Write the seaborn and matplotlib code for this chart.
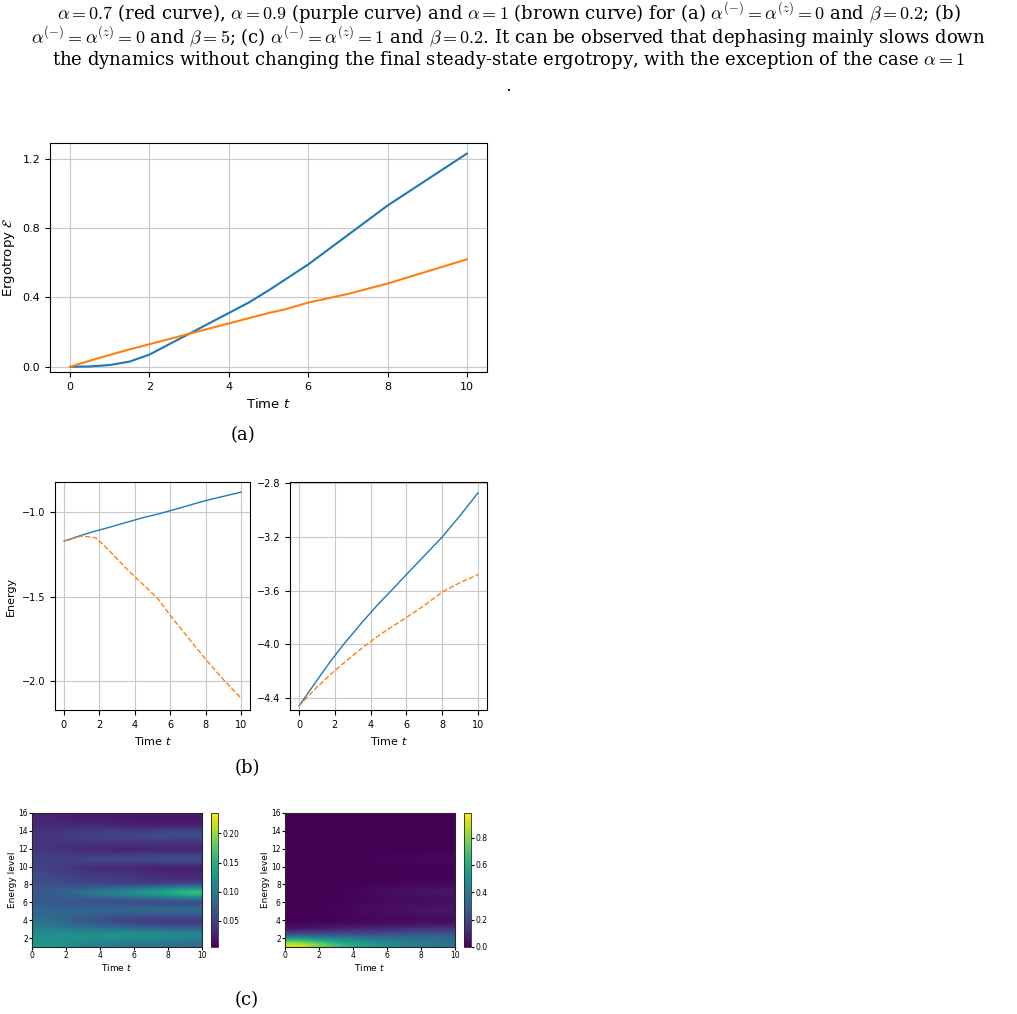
import matplotlib
matplotlib.use("Agg")
import matplotlib.pyplot as plt
import numpy as np
import pandas as pd
import seaborn as sns

sns.set_style("ticks")
plt.rcParams["font.family"] = ["DejaVu Sans"]
plt.rcParams["mathtext.fontset"] = "dejavusans"
plt.rcParams["xtick.color"] = "black"
plt.rcParams["ytick.color"] = "black"
plt.rcParams["text.color"] = "black"
plt.rcParams["axes.labelcolor"] = "black"

# ─── data ────────────────────────────────────────────────────────────────────
t_a = [0, 0.5, 1, 1.5, 2, 2.5, 3, 3.5, 4, 4.5, 5, 5.4, 6, 7, 8, 9, 10]
erg_blue = [0, 0.002, 0.01, 0.03, 0.07, 0.13, 0.19, 0.25, 0.31, 0.37, 0.44, 0.50, 0.59,
            0.76, 0.93, 1.08, 1.23]
erg_orange = [0, 0.035, 0.068, 0.10, 0.13, 0.16, 0.19, 0.22, 0.25, 0.28, 0.31, 0.33, 0.37,
              0.42, 0.48, 0.55, 0.62]

t_b = [0, 1, 1.8, 2.5, 3.5, 4.5, 5.3, 6, 7, 8, 9, 10]
en_left_blue = [-1.17, -1.135, -1.11, -1.09, -1.06, -1.03, -1.01, -0.99, -0.96, -0.93, -0.905, -0.88]
en_left_orange = [-1.17, -1.14, -1.15, -1.22, -1.33, -1.43, -1.51, -1.61, -1.74, -1.87, -1.99, -2.10]
en_right_blue = [-4.46, -4.27, -4.12, -4.0, -3.84, -3.69, -3.58, -3.48, -3.34, -3.2, -3.04, -2.87]
en_right_orange = [-4.46, -4.32, -4.22, -4.14, -4.03, -3.93, -3.86, -3.8, -3.71, -3.61, -3.54, -3.48]

levels = list(range(1, 17))
t_c = [0, 2, 4, 6, 8, 10]
pop_left = [
    [.13, .11, .10, .09, .09, .08],
    [.12, .13, .14, .14, .14, .13],
    [.10, .08, .07, .06, .05, .05],
    [.09, .07, .05, .04, .04, .04],
    [.08, .09, .10, .10, .11, .11],
    [.07, .05, .04, .03, .02, .02],
    [.07, .10, .13, .16, .19, .23],
    [.06, .05, .04, .03, .03, .03],
    [.06, .05, .05, .05, .04, .04],
    [.05, .03, .02, .02, .01, .01],
    [.05, .06, .07, .07, .08, .08],
    [.04, .03, .02, .02, .02, .02],
    [.04, .04, .04, .04, .04, .04],
    [.04, .05, .06, .06, .07, .07],
    [.03, .03, .03, .02, .02, .02],
    [.03, .02, .02, .02, .02, .02],
]
pop_right = [
    [.98, .75, .60, .50, .42, .38],
    [.15, .20, .22, .25, .28, .30],
    [.01, .02, .03, .04, .05, .06],
    [0, 0, .01, .01, .01, .01],
    [0, .01, .03, .05, .07, .08],
    [0, 0, .01, .01, .01, .01],
    [0, .01, .02, .04, .06, .08],
    [0, 0, 0, .01, .01, .01],
    [0, 0, 0, 0, .01, .01],
    [0, 0, 0, 0, 0, 0],
    [0, 0, .01, .02, .03, .03],
    [0, 0, 0, 0, 0, 0],
    [0, 0, 0, 0, .01, .01],
    [0, 0, 0, 0, 0, 0],
    [0, 0, 0, 0, 0, 0],
    [0, 0, 0, 0, 0, 0],
]

W, H = 1017, 1014
fig = plt.figure(figsize=(W / 100, H / 100), dpi=100)


def box(x0, y0, x1, y1):
    return [x0 / W, 1 - y1 / H, (x1 - x0) / W, (y1 - y0) / H]


def style(ax, fs):
    ax.grid(True, color="#c8c8c8", lw=0.8)
    ax.tick_params(labelsize=fs)
    for s in ax.spines.values():
        s.set_color("black")
        s.set_linewidth(0.8)


cap = dict(family="serif", fontsize=13, ha="center", math_fontfamily="cm")
fig.text(0.5, 1 - 13 / H, r"$\alpha = 0.7$ (red curve), $\alpha = 0.9$ (purple curve) and $\alpha = 1$ (brown curve) for (a) $\alpha^{(-)} = \alpha^{(z)} = 0$ and $\beta = 0.2$; (b)", va="center", **cap)
fig.text(0.5, 1 - 37 / H, r"$\alpha^{(-)} = \alpha^{(z)} = 0$ and $\beta = 5$; (c) $\alpha^{(-)} = \alpha^{(z)} = 1$ and $\beta = 0.2$. It can be observed that dephasing mainly slows down", va="center", **cap)
fig.text(0.5, 1 - 60 / H, r"the dynamics without changing the final steady-state ergotropy, with the exception of the case $\alpha = 1$", va="center", **cap)
fig.text(0.5, 1 - 86 / H, ".", va="center", **cap)

# ─── (a) ─────────────────────────────────────────────────────────────────────
ax = fig.add_axes(box(50, 143, 487, 372))
df_a = pd.DataFrame({"t": t_a, "blue": erg_blue, "orange": erg_orange})
sns.lineplot(data=df_a, x="t", y="blue", color="#1f77b4", lw=1.5, ax=ax)
sns.lineplot(data=df_a, x="t", y="orange", color="#ff7f0e", lw=1.5, ax=ax)
ax.set_xlim(-0.5, 10.5)
ax.set_ylim(-0.03, 1.29)
ax.set_xticks([0, 2, 4, 6, 8, 10])
ax.set_yticks([0.0, 0.4, 0.8, 1.2])
ax.set_xlabel(r"Time $t$", fontsize=9.5)
ax.set_ylabel(r"Ergotropy $\mathcal{E}$", fontsize=9.5)
style(ax, 8)
fig.text(243 / W, 1 - 435 / H, "(a)", va="center", **cap)

# ─── (b) ─────────────────────────────────────────────────────────────────────
df_b = pd.DataFrame({"t": t_b, "lb": en_left_blue, "lo": en_left_orange,
                     "rb": en_right_blue, "ro": en_right_orange})
axl = fig.add_axes(box(55, 482, 250, 710))
sns.lineplot(data=df_b, x="t", y="lb", color="#1f77b4", lw=1, ax=axl)
sns.lineplot(data=df_b, x="t", y="lo", color="#ff7f0e", lw=1, ls="--", ax=axl)
axl.set_xlim(-0.5, 10.5)
axl.set_ylim(-2.17, -0.82)
axl.set_yticks([-2.0, -1.5, -1.0])
axl.set_xticks([0, 2, 4, 6, 8, 10])
axl.set_xlabel(r"Time $t$", fontsize=8)
axl.set_ylabel("Energy", fontsize=8)
style(axl, 7)

axr = fig.add_axes(box(290, 482, 487, 710))
sns.lineplot(data=df_b, x="t", y="rb", color="#1f77b4", lw=1, ax=axr)
sns.lineplot(data=df_b, x="t", y="ro", color="#ff7f0e", lw=1, ls="--", ax=axr)
axr.set_xlim(-0.5, 10.5)
axr.set_ylim(-4.49, -2.79)
axr.set_yticks([-4.4, -4.0, -3.6, -3.2, -2.8])
axr.set_xticks([0, 2, 4, 6, 8, 10])
axr.set_xlabel(r"Time $t$", fontsize=8)
axr.set_ylabel("")
style(axr, 7)
fig.text(247 / W, 1 - 768 / H, "(b)", va="center", **cap)

# ─── (c) ─────────────────────────────────────────────────────────────────────
for data, (x0, x1, c0), vmax in [(pop_left, (32, 202, 211), 0.235),
                                  (pop_right, (285, 455, 464), 0.98)]:
    ax = fig.add_axes(box(x0, 813, x1, 947))
    im = ax.imshow(np.array(data), origin="lower", aspect="auto", cmap="viridis",
                   extent=[t_c[0], t_c[-1], levels[0], levels[-1]],
                   interpolation="bicubic", vmin=0.005 if vmax < 0.5 else 0, vmax=vmax)
    ax.set_xticks([0, 2, 4, 6, 8, 10])
    ax.set_yticks([2, 4, 6, 8, 10, 12, 14, 16])
    ax.set_xlabel(r"Time $t$", fontsize=6.5, labelpad=1)
    ax.set_ylabel("Energy level", fontsize=6.5, labelpad=1)
    ax.tick_params(labelsize=5.5, length=2, pad=1)
    cax = fig.add_axes(box(c0, 813, c0 + 7, 947))
    cb = fig.colorbar(im, cax=cax)
    cb.ax.tick_params(labelsize=5.5, length=2, pad=1)
    cb.outline.set_linewidth(0.6)
fig.text(247 / W, 1 - 1000 / H, "(c)", va="center", **cap)

fig.savefig("out.png", dpi=100)
